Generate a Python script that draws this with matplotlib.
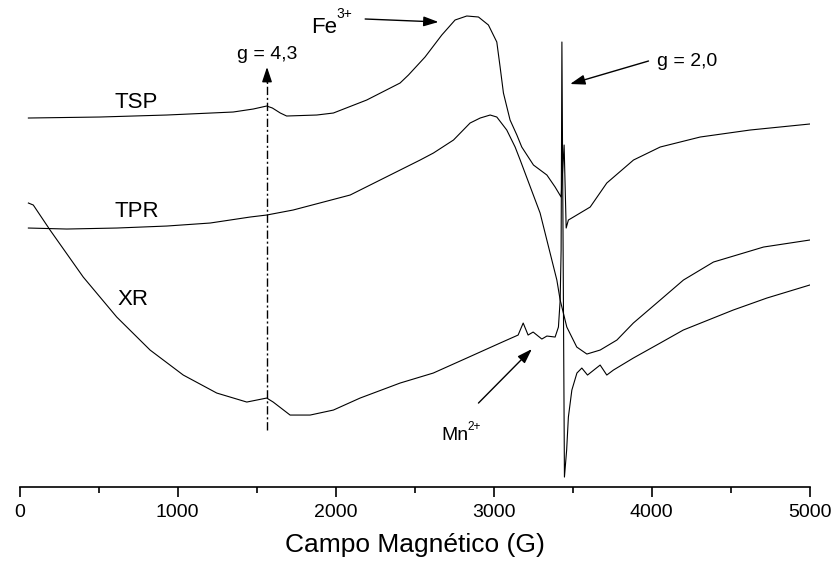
import matplotlib
matplotlib.use("Agg")
import matplotlib.pyplot as plt
from matplotlib.ticker import MultipleLocator

plt.rcParams["font.family"] = ["Liberation Sans", "DejaVu Sans"]

# EPR spectra, intensity in arbitrary units (offset per sample)
tsp_field = [56, 509, 932, 1352, 1479, 1564, 1600, 1650, 1690, 1881, 1986, 2197,
             2408, 2461, 2566, 2672, 2756, 2830, 2904, 2967, 3020, 3041, 3062,
             3104, 3147, 3178, 3252, 3337, 3389, 3427, 3446, 3459, 3473, 3505,
             3611, 3716, 3885, 4054, 4307, 4623, 5000]
tsp_signal = [369, 370, 372, 375, 378, 381, 379, 374, 371, 372, 374, 387,
              404, 412, 430, 452, 467, 471, 470, 462, 445, 420, 394,
              367, 352, 340, 322, 312, 300, 290, 342, 259, 267, 270,
              280, 304, 327, 340, 350, 357, 363]

tpr_field = [56, 299, 615, 932, 1206, 1459, 1564, 1731, 2092, 2535, 2619, 2746,
             2851, 2915, 2978, 3020, 3083, 3136, 3168, 3294, 3400, 3421, 3463,
             3526, 3590, 3674, 3780, 3884, 4054, 4201, 4391, 4708, 5000]
tpr_signal = [259, 258, 259, 261, 264, 270, 272, 277, 292, 327, 334, 347,
              364, 369, 372, 370, 357, 340, 327, 274, 207, 187, 160,
              140, 133, 137, 147, 164, 187, 207, 225, 240, 247]

xr_field = [56, 87, 193, 403, 615, 826, 1036, 1248, 1438, 1564, 1605, 1712,
            1839, 1986, 2155, 2408, 2618, 2830, 3041, 3155, 3187, 3218, 3250,
            3305, 3337, 3389, 3410, 3421, 3427, 3432, 3448, 3462, 3473, 3495,
            3527, 3558, 3594, 3674, 3716, 3758, 3884, 4054, 4200, 4516, 4729,
            5000]
xr_signal = [284, 282, 257, 210, 170, 137, 112, 94, 85, 89, 85, 72,
             72, 77, 89, 104, 114, 129, 144, 152, 164, 152, 155,
             148, 151, 150, 160, 187, 237, 445, 10, 37, 70, 97,
             114, 119, 112, 122, 112, 117, 129, 144, 157, 177, 189,
             202]

x_ticks = [0, 1000, 2000, 3000, 4000, 5000]

fig = plt.figure(figsize=(8.35, 5.69), dpi=100)
ax = fig.add_axes([0.0234, 0.144, 0.9463, 0.856])

for field, signal in [(tsp_field, tsp_signal), (tpr_field, tpr_signal), (xr_field, xr_signal)]:
    ax.plot(field, signal, color="black", linewidth=0.8)

ax.set_xlim(0, 5000)
ax.set_ylim(0, 487)
for side in ["left", "right", "top"]:
    ax.spines[side].set_visible(False)
ax.spines["bottom"].set_linewidth(1.2)
ax.set_yticks([])
ax.set_xticks(x_ticks)
ax.xaxis.set_minor_locator(MultipleLocator(500))
ax.tick_params(axis="x", which="major", direction="out", length=7, width=1.2,
               labelsize=14, pad=5)
ax.tick_params(axis="x", which="minor", direction="out", length=4, width=1.2)
ax.set_xlabel("Campo Magnético (G)", fontsize=19, labelpad=9)

# curve labels
ax.text(604, 379, "TSP", fontsize=16, ha="left", va="baseline")
ax.text(604, 270, "TPR", fontsize=16, ha="left", va="baseline")
ax.text(623, 182, "XR", fontsize=16, ha="left", va="baseline")

# g = 4,3 marker
ax.plot([1566, 1566], [57, 410], color="black", linewidth=1.0, dashes=(6, 2, 1.5, 2))
ax.annotate("", xy=(1566, 420), xytext=(1566, 405),
            arrowprops=dict(arrowstyle="-|>,head_length=0.9,head_width=0.3",
                            color="black", lw=1.0, shrinkA=0, shrinkB=0))
ax.text(1566, 428, "g = 4,3", fontsize=14, ha="center", va="baseline")

arrow = dict(arrowstyle="-|>,head_length=0.9,head_width=0.3", color="black",
             lw=1.0, shrinkA=0, shrinkB=0)

ax.annotate("", xy=(2651, 465), xytext=(2187, 468), arrowprops=arrow)
ax.text(1848, 454, "Fe", fontsize=16, ha="left", va="baseline")
ax.text(2008, 469, "3+", fontsize=10, ha="left", va="baseline")

ax.annotate("", xy=(3484, 403), xytext=(3980, 426), arrowprops=arrow)
ax.text(4035, 421, "g = 2,0", fontsize=14, ha="left", va="baseline")

ax.annotate("", xy=(3242, 138), xytext=(2904, 84), arrowprops=arrow)
ax.text(2672, 47, "Mn", fontsize=14, ha="left", va="baseline")
ax.text(2836, 57, "2+", fontsize=8.5, ha="left", va="baseline")

fig.savefig("out.png", dpi=100)
